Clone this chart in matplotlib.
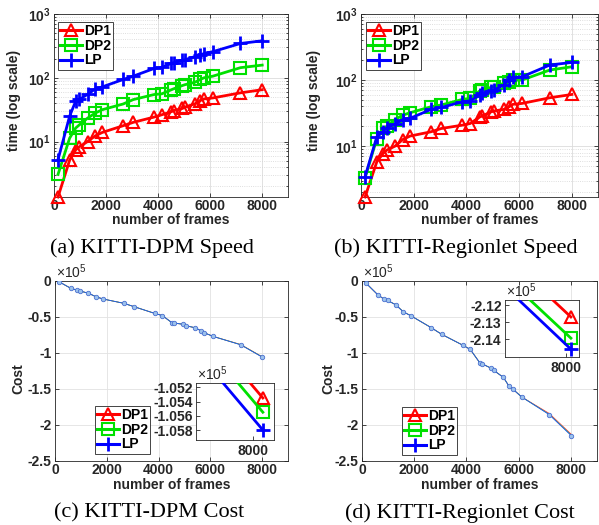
import numpy as np
import matplotlib
matplotlib.use("Agg")
import matplotlib.pyplot as plt
from matplotlib.lines import Line2D
from matplotlib.ticker import FixedLocator, FuncFormatter, LogLocator, NullFormatter

plt.rcParams['font.family'] = ['Liberation Sans', 'DejaVu Sans']
plt.rcParams['mathtext.fontset'] = 'custom'
plt.rcParams['mathtext.rm'] = 'Liberation Sans'
plt.rcParams['mathtext.bf'] = 'Liberation Sans:bold'
plt.rcParams['mathtext.it'] = 'Liberation Sans:italic'

# ---------------- data ----------------
frames = [154, 601, 834, 978, 1292, 1589, 1859, 2659, 3049, 3852, 4146,
          4519, 4597, 4937, 5043, 5419, 5628, 5773, 6112, 7171, 8008]

dpm_dp1 = [1.35, 5.1, 7.4, 8.3, 10, 12.3, 13.9, 17.7, 20, 24.2, 26.3,
           29.4, 30.5, 33, 34.8, 39, 44, 46.6, 48.3, 58, 65]
dpm_dp2 = [3.05, 11.3, 16.3, 18.3, 23.3, 28, 31.6, 38.8, 45.5, 54.6, 56,
           65, 67, 75.5, 78, 85, 94, 100, 106, 144, 158]
dpm_lp = [5.2, 25, 43, 46, 55, 67, 72, 94, 106, 140, 145,
          168, 172, 188, 192, 215, 228, 240, 257, 345, 380]

reg_dp1 = [1.7, 5.8, 7.7, 8.7, 10, 12.6, 14.2, 16.5, 18.5, 20.8, 22,
           27.8, 28.5, 33, 34, 36, 39.5, 43, 44.3, 54, 60.6]
reg_dp2 = [3.3, 13, 18.5, 20, 25.3, 29.5, 32, 39.5, 42, 51, 53,
           69, 70.6, 77.5, 79, 89, 94.5, 100, 100, 142, 159]
reg_lp = [3.43, 13.9, 16.5, 19, 21.5, 25.3, 26.3, 36, 38.5, 47, 48.6,
          59, 63, 69, 70.6, 84, 102, 110, 112, 169, 185]

# cost values in units of 1e5
dpm_cost_lp = [-0.01, -0.10, -0.125, -0.14, -0.17, -0.22, -0.25, -0.31, -0.356, -0.45, -0.48,
               -0.58, -0.585, -0.60, -0.62, -0.65, -0.69, -0.72, -0.77, -0.886, -1.058]
dpm_cost_dp2 = dpm_cost_lp[:-2] + [-0.884, -1.0555]
dpm_cost_dp1 = dpm_cost_lp[:-2] + [-0.882, -1.0535]

reg_cost_lp = [-0.03, -0.19, -0.25, -0.27, -0.33, -0.43, -0.48, -0.65, -0.74, -0.89, -0.95,
               -1.14, -1.15, -1.21, -1.24, -1.34, -1.46, -1.50, -1.61, -1.856, -2.146]
reg_cost_dp2 = reg_cost_lp[:-2] + [-1.8525, -2.1395]
reg_cost_dp1 = reg_cost_lp[:-2] + [-1.840, -2.127]

names = ['DP1', 'DP2', 'LP']
colors = ['#ff0000', '#00e000', '#0000ff']
thin_colors = ['#ff3030', '#30d030', '#2050ff']
markers = ['^', 's', '+']
captions = ['(a) KITTI-DPM Speed', '(b) KITTI-Regionlet Speed',
            '(c) KITTI-DPM Cost', '(d) KITTI-Regionlet Cost']
xticks = [0, 2000, 4000, 6000, 8000]
cost_yticks = [0, -0.5, -1, -1.5, -2, -2.5]
dpm_inset_yticks = [-1.052, -1.054, -1.056, -1.058]
reg_inset_yticks = [-2.12, -2.13, -2.14]

# ---------------- style helpers ----------------
FS = 10
W, H = 599, 525
fig = plt.figure(figsize=(W / 100, H / 100), dpi=100)


def box(x0, y0, x1, y1):
    return [x0 / W, 1 - y1 / H, (x1 - x0) / W, (y1 - y0) / H]


def style(ax):
    ax.tick_params(which='both', direction='in', top=True, right=True,
                   labelsize=FS, width=0.6, colors='#262626')
    ax.tick_params(which='major', length=3)
    ax.tick_params(which='minor', length=1.6)
    ax.tick_params(axis='x', pad=1.6)
    ax.tick_params(axis='y', pad=2.5)
    for lab in ax.get_xticklabels() + ax.get_yticklabels():
        lab.set_fontweight('bold')
    for s in ax.spines.values():
        s.set_color('#262626')
        s.set_linewidth(0.6)


def marker_kw(i):
    if markers[i] == '+':
        return dict(marker='+', markersize=10, markeredgewidth=2.0)
    return dict(marker=markers[i], markersize=8, markeredgewidth=1.5,
                markerfacecolor='none')


def legend(ax, anchor):
    handles = [Line2D([], [], color=colors[i], lw=2.2, **marker_kw(i)) for i in range(3)]
    leg = ax.legend(handles, names, loc='upper left', bbox_to_anchor=anchor,
                    bbox_transform=fig.transFigure, fancybox=False,
                    prop={'weight': 'bold', 'size': FS}, handlelength=1.6,
                    handletextpad=0.15, borderpad=0.15, labelspacing=0.05,
                    borderaxespad=0, framealpha=1)
    leg.get_frame().set_edgecolor('#262626')
    leg.get_frame().set_linewidth(0.6)


def log_fmt(v, pos):
    e = int(round(np.log10(v)))
    return r'$\mathbf{10^{%d}}$' % e


def xlabel(ax, frac):
    ax.set_xlabel('number of frames', fontsize=FS, fontweight='bold', color='#262626')
    ax.xaxis.set_label_coords(0.5, frac)
    ax.xaxis.label.set_va('baseline')


# ---------------- speed plots ----------------
speed = [(box(54, 14, 288, 197), [dpm_dp1, dpm_dp2, dpm_lp], (58, 22), -0.171, 0.53, (152, 248)),
         (box(361, 14, 598, 197), [reg_dp1, reg_dp2, reg_lp], (366, 22), -0.20, 0.53, (456, 248))]
for k, (pos, series, lg, ylx, yly, cap) in enumerate(speed):
    ax = fig.add_axes(pos)
    ax.set_yscale('log')
    for i, ys in enumerate(series):
        ax.plot(frames, ys, color=colors[i], lw=2.0, clip_on=False, zorder=3, **marker_kw(i))
    ax.set_xlim(0, 9000)
    ax.set_ylim(min(series[0]), 1000)
    ax.xaxis.set_major_locator(FixedLocator(xticks))
    ax.yaxis.set_major_locator(LogLocator(base=10))
    ax.yaxis.set_minor_locator(LogLocator(base=10, subs=np.arange(2, 10)))
    ax.yaxis.set_major_formatter(FuncFormatter(log_fmt))
    ax.yaxis.set_minor_formatter(NullFormatter())
    ax.grid(True, which='major', color='#dcdcdc', lw=0.6, ls='-')
    ax.grid(True, which='minor', axis='y', color='#d4d4d4', lw=0.6, ls=':')
    ax.set_axisbelow(True)
    style(ax)
    xlabel(ax, -(224 - 197) / 183)
    ax.set_ylabel('time (log scale)', fontsize=FS, fontweight='bold', color='#262626')
    ax.yaxis.set_label_coords(ylx, yly)
    ax.yaxis.label.set_va('center')
    legend(ax, (lg[0] / W, 1 - lg[1] / H))
    fig.text(cap[0] / W, 1 - cap[1] / H, captions[k], family='Liberation Serif',
             fontsize=16, ha='center', va='center')

# ---------------- cost plots ----------------
cost = [(box(55, 281, 288, 461), [dpm_cost_dp1, dpm_cost_dp2, dpm_cost_lp], (95, 406),
         -0.159, 0.46, (149, 513),
         box(196, 383, 274, 440), (7954, 8017), (-1.0594, -1.0514), dpm_inset_yticks, '%.3f'),
        (box(362, 281, 597, 461), [reg_cost_dp1, reg_cost_dp2, reg_cost_lp], (402, 407),
         -0.145, 0.46, (460, 513),
         box(505, 300, 579, 357), (7902, 8021), (-2.1506, -2.117), reg_inset_yticks, '%.2f')]
for k, (pos, series, lg, ylx, yly, cap, ipos, ixl, iyl, iyt, ifmt) in enumerate(cost):
    ax = fig.add_axes(pos)
    for i, ys in enumerate(series):
        ax.plot(frames, ys, color=thin_colors[i], lw=0.6, zorder=3)
    ax.plot(frames, series[2], ls='none', marker='o', markersize=3.2,
            markerfacecolor='#9cc2ec', markeredgecolor='#4a70d0', markeredgewidth=0.6, zorder=4)
    ax.set_xlim(0, 9000)
    ax.set_ylim(-2.5, 0)
    ax.xaxis.set_major_locator(FixedLocator(xticks))
    ax.yaxis.set_major_locator(FixedLocator(cost_yticks))
    ax.yaxis.set_major_formatter(FuncFormatter(lambda v, p: '%g' % v))
    ax.grid(True, color='#e2e2e2', lw=0.6)
    ax.set_axisbelow(True)
    style(ax)
    ax.text(0.005, 1.0, r'$\times10^{5}$', transform=ax.transAxes, fontsize=FS,
            ha='left', va='bottom', color='#262626')
    xlabel(ax, -(489 - 461) / 180)
    ax.set_ylabel('Cost', fontsize=FS, fontweight='bold', color='#262626')
    ax.yaxis.set_label_coords(ylx, yly)
    ax.yaxis.label.set_va('center')
    legend(ax, (lg[0] / W, 1 - lg[1] / H))
    fig.text(cap[0] / W, 1 - cap[1] / H, captions[k + 2], family='Liberation Serif',
             fontsize=16, ha='center', va='center')

    # inset
    ins = fig.add_axes(ipos)
    for i, ys in enumerate(series):
        ins.plot(frames, ys, color=colors[i], lw=2.0, clip_on=True, zorder=3, **marker_kw(i))
    ins.set_xlim(*ixl)
    ins.set_ylim(*iyl)
    ins.xaxis.set_major_locator(FixedLocator([8000]))
    ins.yaxis.set_major_locator(FixedLocator(iyt))
    ins.yaxis.set_major_formatter(FuncFormatter(lambda v, p, f=ifmt: f % v))
    ins.set_facecolor('white')
    style(ins)
    ins.tick_params(which='both', top=False, right=False)
    ins.tick_params(axis='x', pad=3)
    ins.text(0.01, 1.0, r'$\times10^{5}$', transform=ins.transAxes, fontsize=FS,
             ha='left', va='bottom', color='#262626')

fig.savefig('out.png', dpi=100, facecolor='white')
